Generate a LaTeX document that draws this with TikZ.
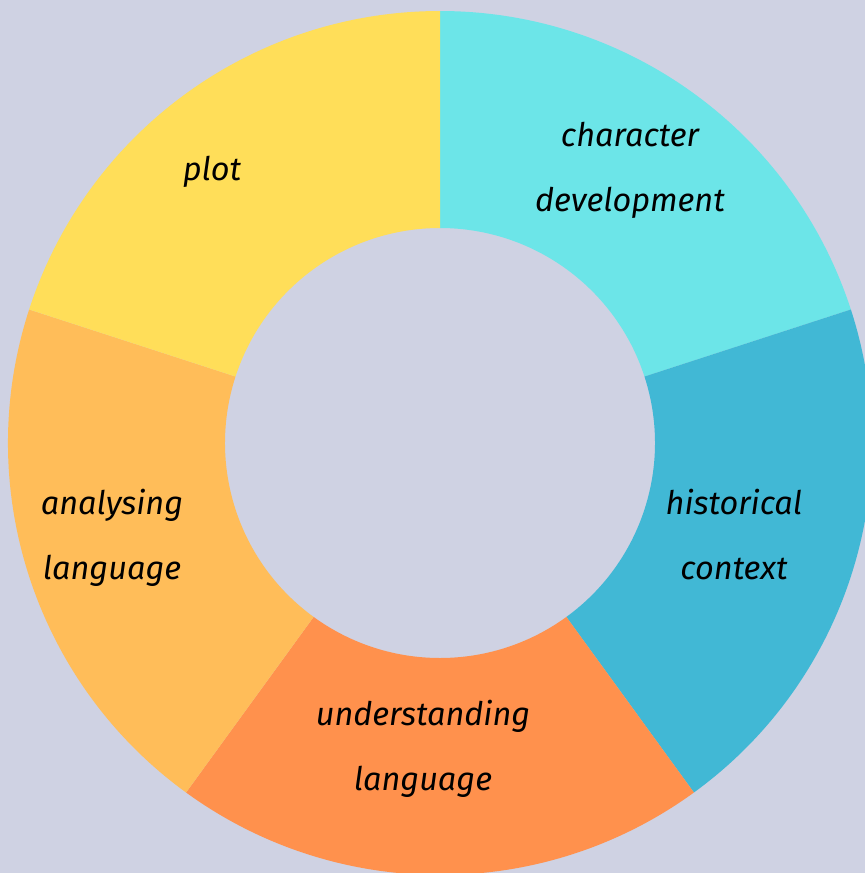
\documentclass[tikz,border=0pt]{standalone}
\usepackage{fontspec}
\setmainfont{Fira Sans}
\usetikzlibrary{positioning, calc}
\definecolor{bg}{HTML}{CFD2E3}
\definecolor{cyanseg}{HTML}{6CE5E8}
\definecolor{blueseg}{HTML}{41B8D5}
\definecolor{orangeseg}{HTML}{FF914D}
\definecolor{lightorangeseg}{HTML}{FFBD59}
\definecolor{yellowseg}{HTML}{FFDE59}
\tikzset{
    label text/.style={font=\itshape\fontsize{18.5}{37}\selectfont, align=center, text=black}
}
\begin{document}
\begin{tikzpicture}[x=0.02cm, y=0.02cm]

    %background
    \fill [bg] (0,0) rectangle (865,-873);
    \useasboundingbox (0,0) rectangle (865,-873);
    \coordinate (c) at (440,-443);

    %segments
    \foreach \a/\b/\col in {18/90/cyanseg, -54/18/blueseg, -126/-54/orangeseg, 162/234/lightorangeseg, 90/162/yellowseg}
        \fill [\col] ($(c)+(\a:432)$) arc [start angle=\a, end angle=\b, radius=432]
            -- ($(c)+(\b:215)$) arc [start angle=\b, end angle=\a, radius=215] -- cycle;

    %nodes
    \node [label text] (plot) at (212,-172) {plot};
    \node [label text] (character) at (630,-170) {character\\development};
    \node [label text] (historical) at (734,-535) {historical\\context};
    \node [label text] (analysing) at (112,-538) {analysing\\language};
    \node [label text] (understanding) at (423,-749) {understanding\\language};

\end{tikzpicture}
\end{document}
